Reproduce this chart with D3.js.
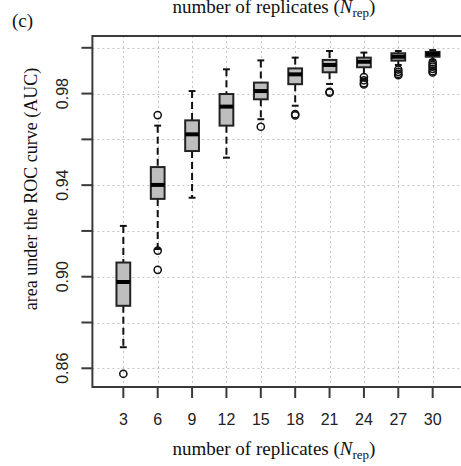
<!DOCTYPE html>
<html>
<head>
<meta charset="utf-8">
<script src="https://cdn.jsdelivr.net/npm/d3@7"></script>
<style>
html,body{margin:0;padding:0;background:#fff;overflow:hidden;}
svg{display:block;}
</style>
</head>
<body>
<svg id="chart" width="461" height="466"></svg>
<script>
// ---- data ----
const categories = [3, 6, 9, 12, 15, 18, 21, 24, 27, 30];
const whiskerLow  = [0.8692, 0.9121, 0.9345, 0.9520, 0.9688, 0.9747, 0.9842, 0.9864, 0.9925, 0.9947];
const q1          = [0.8873, 0.9340, 0.9549, 0.9660, 0.9775, 0.9841, 0.9893, 0.9915, 0.9944, 0.9961];
const medians     = [0.8977, 0.9401, 0.9622, 0.9743, 0.9811, 0.9884, 0.9925, 0.9939, 0.9961, 0.9973];
const q3          = [0.9062, 0.9479, 0.9683, 0.9798, 0.9848, 0.9910, 0.9947, 0.9957, 0.9976, 0.9982];
const whiskerHigh = [0.9222, 0.9660, 0.9811, 0.9906, 0.9945, 0.9957, 0.9986, 0.9979, 0.9986, 0.9990];
const outliers = [
  [0.8576],
  [0.9706, 0.9114, 0.9030],
  [],
  [],
  [0.9655],
  [0.9710, 0.9705],
  [0.9808, 0.9804],
  [0.9872, 0.9858, 0.9845, 0.9840],
  [0.9905, 0.9895, 0.9886, 0.9880],
  [0.9936, 0.9926, 0.9918, 0.9908, 0.9898, 0.9892]
];
const yTicks = [0.86, 0.88, 0.90, 0.92, 0.94, 0.96, 0.98, 1.00];
const yTickLabels = [0.86, 0.90, 0.94, 0.98];

(function () {
const svg = d3.select("#chart");

const pL = 92.4, pR = 463.6, pT = 36, pB = 387;
const x = d3.scaleLinear().domain([0.1, 10.9]).range([pL, pR]);
const y = d3.scaleLinear().domain([0.85183, 1.00515]).range([pB, pT]);
const boxW = x(1.4) - x(1.0);   // boxwex 0.8
const capW = boxW / 2;

// grid
const grid = svg.append("g").attr("stroke", "#c4c4c4").attr("stroke-width", 1)
  .attr("stroke-dasharray", "2,3");
grid.selectAll("line.h").data(yTicks).join("line").attr("class", "h")
  .attr("x1", pL).attr("x2", pR)
  .attr("y1", d => Math.round(y(d)) + 0.5).attr("y2", d => Math.round(y(d)) + 0.5);
grid.selectAll("line.v").data(categories).join("line").attr("class", "v")
  .attr("y1", pT).attr("y2", pB)
  .attr("x1", (d, i) => Math.round(x(i + 1)) + 0.5).attr("x2", (d, i) => Math.round(x(i + 1)) + 0.5);

// boxes
const g = svg.append("g");
categories.forEach((c, i) => {
  const cx = x(i + 1);
  const bg = g.append("g");
  bg.append("line").attr("x1", cx).attr("x2", cx).attr("y1", y(whiskerHigh[i])).attr("y2", y(q3[i]))
    .attr("stroke", "#111").attr("stroke-width", 2).attr("stroke-dasharray", "7,4");
  bg.append("line").attr("x1", cx).attr("x2", cx).attr("y1", y(q1[i])).attr("y2", y(whiskerLow[i]))
    .attr("stroke", "#111").attr("stroke-width", 2).attr("stroke-dasharray", "7,4");
  [whiskerHigh[i], whiskerLow[i]].forEach(v => {
    bg.append("line").attr("x1", cx - capW / 2).attr("x2", cx + capW / 2)
      .attr("y1", y(v)).attr("y2", y(v)).attr("stroke", "#111").attr("stroke-width", 2);
  });
  bg.append("rect").attr("x", cx - boxW / 2).attr("width", boxW)
    .attr("y", y(q3[i])).attr("height", Math.max(0.5, y(q1[i]) - y(q3[i])))
    .attr("fill", "#bebebe").attr("stroke", "#222").attr("stroke-width", 2);
  bg.append("line").attr("x1", cx - boxW / 2).attr("x2", cx + boxW / 2)
    .attr("y1", y(medians[i])).attr("y2", y(medians[i])).attr("stroke", "#000").attr("stroke-width", 4);
  bg.selectAll("circle").data(outliers[i]).join("circle")
    .attr("cx", cx).attr("cy", d => y(d)).attr("r", 3.6)
    .attr("fill", "none").attr("stroke", "#111").attr("stroke-width", 1.5);
});

// frame
svg.append("rect").attr("x", pL).attr("y", pT).attr("width", pR - pL).attr("height", pB - pT)
  .attr("fill", "none").attr("stroke", "#3a3a3a").attr("stroke-width", 2);

// y axis
const ya = svg.append("g");
ya.selectAll("line").data(yTicks).join("line")
  .attr("x1", pL - 11).attr("x2", pL).attr("y1", d => y(d)).attr("y2", d => y(d))
  .attr("stroke", "#3a3a3a").attr("stroke-width", 2);
ya.selectAll("text").data(yTickLabels).join("text")
  .attr("transform", d => `translate(68,${y(d)}) rotate(-90)`)
  .attr("text-anchor", "middle")
  .attr("font-family", "Liberation Sans, Arial, sans-serif").attr("font-size", 16)
  .attr("fill", "#222").text(d => d3.format(".2f")(d));

// x axis
const xa = svg.append("g");
xa.selectAll("line").data(categories).join("line")
  .attr("x1", (d, i) => x(i + 1)).attr("x2", (d, i) => x(i + 1)).attr("y1", pB).attr("y2", pB + 11)
  .attr("stroke", "#3a3a3a").attr("stroke-width", 2);
xa.selectAll("text").data(categories).join("text")
  .attr("x", (d, i) => x(i + 1)).attr("y", 425)
  .attr("text-anchor", "middle")
  .attr("font-family", "Liberation Sans, Arial, sans-serif").attr("font-size", 16)
  .attr("fill", "#222").text(d => d);

// titles
function nrepTitle(sel, yy) {
  const t = sel.append("text").attr("x", 274).attr("y", yy).attr("text-anchor", "middle")
    .attr("font-family", "Liberation Serif, Times New Roman, serif").attr("font-size", 19).attr("fill", "#111");
  t.append("tspan").text("number of replicates (");
  t.append("tspan").attr("font-style", "italic").text("N");
  t.append("tspan").attr("font-size", 13).attr("dy", 4).text("rep");
  t.append("tspan").attr("dy", -4).text(")");
}
nrepTitle(svg, 455);
nrepTitle(svg, 13);

svg.append("text").attr("transform", "translate(37,189) rotate(-90)")
  .attr("text-anchor", "middle")
  .attr("font-family", "Liberation Serif, Times New Roman, serif").attr("font-size", 18).attr("fill", "#111")
  .text("area under the ROC curve (AUC)");

svg.append("text").attr("x", 12).attr("y", 27)
  .attr("font-family", "Liberation Serif, Times New Roman, serif").attr("font-size", 19).attr("fill", "#111")
  .text("(c)");
})();
</script>
</body>
</html>
